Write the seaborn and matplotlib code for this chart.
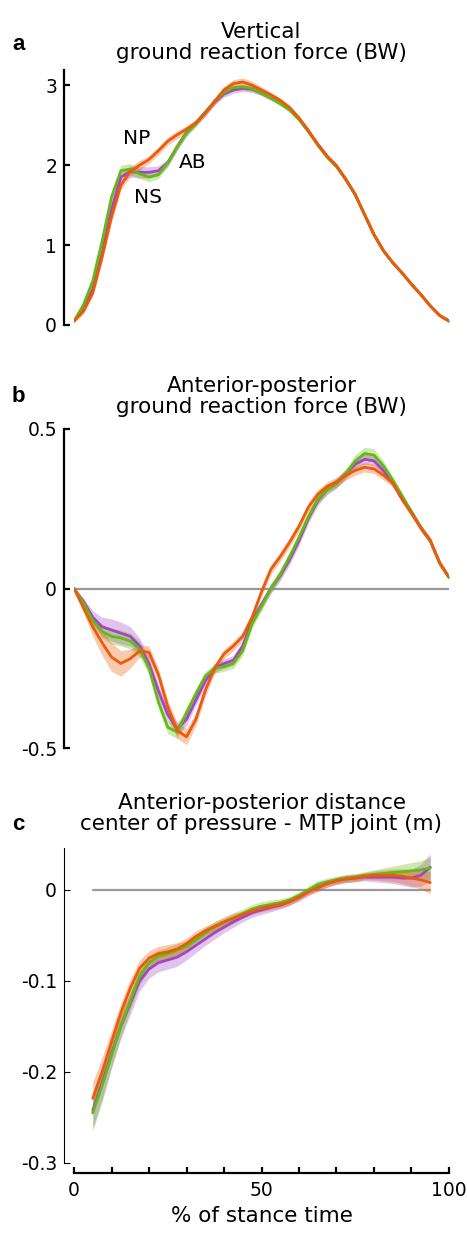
import numpy as np
import pandas as pd
import matplotlib
matplotlib.use("Agg")
import matplotlib.pyplot as plt
import seaborn as sns

# ---------------- data ----------------
groups = ["AB", "NS", "NP"]
colors = {"AB": "#a445c6", "NS": "#66b814", "NP": "#ec5a0a"}

pct_ab = [0, 2.5, 5, 7.5, 10, 12.5, 15, 17.5, 20, 22.5, 25, 27.5, 30, 32.5, 35, 37.5, 40,
          42.5, 45, 47.5, 50, 52.5, 55, 57.5, 60, 62.5, 65, 67.5, 70, 72.5, 75, 77.5, 80,
          82.5, 85, 87.5, 90, 92.5, 95, 97.5, 100]
pct_c = [5, 7.5, 10, 12.5, 15, 17.5, 20, 22.5, 25, 27.5, 30, 32.5, 35, 37.5, 40, 42.5, 45,
         47.5, 50, 52.5, 55, 57.5, 60, 62.5, 65, 67.5, 70, 72.5, 75, 77.5, 80, 82.5, 85,
         87.5, 90, 92.5, 95]

# panel a: vertical GRF (BW)
vgrf_AB = [0.05, 0.20, 0.45, 0.90, 1.45, 1.85, 1.92, 1.91, 1.91, 1.93, 2.03, 2.23, 2.41, 2.53,
           2.66, 2.79, 2.89, 2.94, 2.96, 2.95, 2.90, 2.84, 2.78, 2.70, 2.58, 2.43, 2.26, 2.11,
           1.99, 1.82, 1.63, 1.38, 1.13, 0.93, 0.78, 0.65, 0.51, 0.38, 0.24, 0.12, 0.05]
vgrf_NS = [0.05, 0.25, 0.55, 1.05, 1.60, 1.93, 1.95, 1.89, 1.85, 1.88, 2.03, 2.23, 2.40, 2.52,
           2.66, 2.80, 2.91, 2.97, 2.98, 2.96, 2.90, 2.84, 2.77, 2.69, 2.57, 2.42, 2.25, 2.10,
           1.98, 1.82, 1.63, 1.38, 1.13, 0.93, 0.78, 0.65, 0.51, 0.38, 0.24, 0.12, 0.05]
vgrf_NP = [0.05, 0.17, 0.40, 0.85, 1.35, 1.75, 1.92, 2.00, 2.07, 2.18, 2.30, 2.38, 2.45, 2.53,
           2.65, 2.80, 2.94, 3.02, 3.04, 3.00, 2.94, 2.88, 2.81, 2.72, 2.59, 2.43, 2.26, 2.11,
           1.99, 1.82, 1.63, 1.38, 1.13, 0.93, 0.78, 0.65, 0.51, 0.38, 0.24, 0.12, 0.05]
vgrf_sd_AB = [0.02, 0.03, 0.04, 0.05, 0.06, 0.07, 0.07, 0.07, 0.07, 0.06, 0.05, 0.05, 0.05, 0.04,
              0.04, 0.04, 0.04, 0.04, 0.04, 0.04, 0.03, 0.03, 0.03, 0.03, 0.03, 0.03, 0.03, 0.03,
              0.03, 0.03, 0.03, 0.03, 0.03, 0.03, 0.02, 0.02, 0.02, 0.02, 0.02, 0.02, 0.02]
vgrf_sd_NS = [0.02, 0.03, 0.04, 0.05, 0.06, 0.07, 0.07, 0.06, 0.06, 0.05, 0.05, 0.04, 0.04, 0.04,
              0.04, 0.04, 0.04, 0.04, 0.04, 0.04, 0.03, 0.03, 0.03, 0.03, 0.03, 0.03, 0.03, 0.03,
              0.03, 0.03, 0.03, 0.03, 0.03, 0.03, 0.02, 0.02, 0.02, 0.02, 0.02, 0.02, 0.02]
vgrf_sd_NP = [0.02, 0.03, 0.04, 0.05, 0.06, 0.06, 0.06, 0.06, 0.05, 0.05, 0.05, 0.05, 0.04, 0.04,
              0.04, 0.04, 0.05, 0.05, 0.05, 0.05, 0.04, 0.03, 0.03, 0.03, 0.03, 0.03, 0.03, 0.03,
              0.03, 0.03, 0.03, 0.03, 0.03, 0.03, 0.02, 0.02, 0.02, 0.02, 0.02, 0.02, 0.02]

# panel b: anterior-posterior GRF (BW)
apgrf_AB = [0.0, -0.04, -0.09, -0.12, -0.13, -0.14, -0.15, -0.18, -0.235, -0.32, -0.395, -0.44,
            -0.41, -0.35, -0.29, -0.25, -0.235, -0.225, -0.18, -0.10, -0.05, 0.0, 0.04, 0.09,
            0.15, 0.22, 0.275, 0.31, 0.33, 0.36, 0.39, 0.405, 0.40, 0.37, 0.33, 0.28, 0.24, 0.19,
            0.15, 0.08, 0.035]
apgrf_NS = [0.0, -0.045, -0.10, -0.135, -0.15, -0.155, -0.165, -0.19, -0.25, -0.355, -0.435,
            -0.45, -0.39, -0.33, -0.275, -0.25, -0.245, -0.235, -0.195, -0.11, -0.055, 0.0,
            0.045, 0.10, 0.16, 0.225, 0.28, 0.31, 0.33, 0.36, 0.40, 0.423, 0.418, 0.385, 0.34,
            0.29, 0.24, 0.19, 0.15, 0.08, 0.035]
apgrf_NP = [0.0, -0.06, -0.12, -0.17, -0.215, -0.235, -0.22, -0.196, -0.20, -0.27, -0.37,
            -0.445, -0.465, -0.41, -0.32, -0.25, -0.205, -0.18, -0.15, -0.09, -0.01, 0.06, 0.10,
            0.145, 0.195, 0.255, 0.295, 0.32, 0.334, 0.355, 0.37, 0.38, 0.375, 0.355, 0.33,
            0.28, 0.235, 0.19, 0.15, 0.08, 0.035]
apgrf_sd_AB = [0.0, 0.01, 0.02, 0.03, 0.035, 0.035, 0.03, 0.025, 0.02, 0.02, 0.02, 0.02, 0.02,
               0.015, 0.015, 0.015, 0.015, 0.015, 0.015, 0.015, 0.015, 0.015, 0.015, 0.015, 0.015,
               0.015, 0.015, 0.015, 0.015, 0.015, 0.015, 0.015, 0.015, 0.015, 0.01, 0.01, 0.01,
               0.01, 0.01, 0.01, 0.005]
apgrf_sd_NS = [0.0, 0.01, 0.015, 0.02, 0.025, 0.025, 0.025, 0.025, 0.02, 0.02, 0.02, 0.02, 0.02,
               0.015, 0.015, 0.015, 0.015, 0.015, 0.015, 0.015, 0.015, 0.015, 0.015, 0.015, 0.015,
               0.015, 0.015, 0.015, 0.015, 0.015, 0.02, 0.02, 0.02, 0.015, 0.01, 0.01, 0.01,
               0.01, 0.01, 0.01, 0.005]
apgrf_sd_NP = [0.0, 0.015, 0.03, 0.04, 0.045, 0.04, 0.03, 0.02, 0.02, 0.02, 0.02, 0.025, 0.025,
               0.02, 0.02, 0.015, 0.015, 0.015, 0.015, 0.015, 0.015, 0.015, 0.015, 0.015, 0.015,
               0.015, 0.015, 0.015, 0.015, 0.015, 0.015, 0.015, 0.015, 0.015, 0.01, 0.01, 0.01,
               0.01, 0.01, 0.01, 0.005]

# panel c: AP distance centre of pressure - MTP joint (m)
cop_AB = [-0.242, -0.212, -0.18, -0.15, -0.125, -0.10, -0.087, -0.08, -0.077, -0.074, -0.068,
          -0.061, -0.054, -0.047, -0.041, -0.035, -0.030, -0.025, -0.022, -0.019, -0.017, -0.013,
          -0.008, -0.002, 0.003, 0.007, 0.010, 0.012, 0.013, 0.014, 0.014, 0.014, 0.014, 0.013,
          0.013, 0.016, 0.025]
cop_NS = [-0.245, -0.215, -0.182, -0.15, -0.122, -0.095, -0.080, -0.073, -0.070, -0.066, -0.062,
          -0.055, -0.047, -0.041, -0.036, -0.031, -0.026, -0.021, -0.018, -0.016, -0.014, -0.011,
          -0.006, 0.0, 0.006, 0.009, 0.011, 0.013, 0.014, 0.016, 0.017, 0.018, 0.019, 0.020,
          0.021, 0.022, 0.024]
cop_NP = [-0.229, -0.20, -0.167, -0.135, -0.108, -0.086, -0.075, -0.070, -0.068, -0.065, -0.059,
          -0.051, -0.045, -0.040, -0.035, -0.031, -0.027, -0.023, -0.020, -0.018, -0.016, -0.013,
          -0.008, -0.002, 0.002, 0.007, 0.010, 0.012, 0.013, 0.015, 0.016, 0.016, 0.016, 0.015,
          0.013, 0.011, 0.008]
cop_sd_AB = [0.02, 0.018, 0.015, 0.013, 0.012, 0.011, 0.01, 0.01, 0.01, 0.01, 0.009, 0.008, 0.007,
             0.007, 0.006, 0.006, 0.005, 0.005, 0.005, 0.005, 0.004, 0.004, 0.004, 0.004, 0.004,
             0.004, 0.004, 0.004, 0.004, 0.004, 0.005, 0.006, 0.007, 0.008, 0.01, 0.012, 0.015]
cop_sd_NS = [0.02, 0.018, 0.014, 0.012, 0.01, 0.009, 0.008, 0.007, 0.007, 0.007, 0.006, 0.006,
             0.006, 0.006, 0.006, 0.006, 0.005, 0.005, 0.005, 0.005, 0.004, 0.004, 0.004, 0.004,
             0.004, 0.004, 0.004, 0.004, 0.004, 0.004, 0.005, 0.006, 0.007, 0.008, 0.009, 0.01,
             0.012]
cop_sd_NP = [0.018, 0.016, 0.013, 0.011, 0.01, 0.009, 0.008, 0.008, 0.008, 0.007, 0.006, 0.006,
             0.005, 0.005, 0.005, 0.005, 0.004, 0.004, 0.004, 0.004, 0.004, 0.004, 0.004, 0.004,
             0.004, 0.004, 0.004, 0.004, 0.004, 0.004, 0.005, 0.006, 0.007, 0.008, 0.009, 0.01,
             0.012]

panel_titles = ["Vertical\nground reaction force (BW)",
                "Anterior-posterior\nground reaction force (BW)",
                "Anterior-posterior distance\ncenter of pressure - MTP joint (m)"]
panel_letters = ["a", "b", "c"]
xlabel = "% of stance time"
group_labels = {"NP": (16.7, 2.33), "NS": (19.8, 1.60), "AB": (31.6, 2.03)}

# ---------------- figure ----------------
sns.set_theme(style="white")
plt.rcParams["font.family"] = ["DejaVu Sans"]
plt.rcParams["text.color"] = "black"
plt.rcParams["axes.labelcolor"] = "black"
plt.rcParams["xtick.color"] = "black"
plt.rcParams["ytick.color"] = "black"

W, H = 467, 1237
fig = plt.figure(figsize=(W / 100, H / 100), dpi=100)


def rect(top, bottom, left=74, right=449):
    return [left / W, 1 - bottom / H, (right - left) / W, (bottom - top) / H]


ax_a = fig.add_axes(rect(70, 325))
ax_b = fig.add_axes(rect(429, 748))
ax_c = fig.add_axes(rect(848, 1163))


def draw(ax, x, series, sds):
    rows = []
    for g in groups:
        for xi, yi in zip(x, series[g]):
            rows.append({"pct": xi, "val": yi, "grp": g})
    df = pd.DataFrame(rows)
    for g in groups:
        m = np.array(series[g])
        s = np.array(sds[g])
        ax.fill_between(x, m - s, m + s, color=colors[g], alpha=0.32, lw=0)
    sns.lineplot(data=df, x="pct", y="val", hue="grp", hue_order=groups,
                 palette=colors, ax=ax, legend=False, lw=2.0, errorbar=None)


# zero lines
ax_b.plot([pct_ab[0], pct_ab[-1]], [0, 0], color="#999999", lw=1.6, zorder=0)
ax_c.plot([pct_c[0], pct_c[-1]], [0, 0], color="#999999", lw=1.6, zorder=0)

draw(ax_a, pct_ab, {"AB": vgrf_AB, "NS": vgrf_NS, "NP": vgrf_NP},
     {"AB": vgrf_sd_AB, "NS": vgrf_sd_NS, "NP": vgrf_sd_NP})
draw(ax_b, pct_ab, {"AB": apgrf_AB, "NS": apgrf_NS, "NP": apgrf_NP},
     {"AB": apgrf_sd_AB, "NS": apgrf_sd_NS, "NP": apgrf_sd_NP})
draw(ax_c, pct_c, {"AB": cop_AB, "NS": cop_NS, "NP": cop_NP},
     {"AB": cop_sd_AB, "NS": cop_sd_NS, "NP": cop_sd_NP})

for lab, (xx, yy) in group_labels.items():
    ax_a.text(xx, yy, lab, ha="center", va="center", fontsize=14.5, color="black")

ax_a.set_ylim(0, 3.19)
ax_a.set_yticks([0, 1, 2, 3])
ax_a.set_yticklabels(["0", "1", "2", "3"])
ax_b.set_ylim(-0.5, 0.5)
ax_b.set_yticks([-0.5, 0, 0.5])
ax_b.set_yticklabels(["-0.5", "0", "0.5"])
ax_c.set_ylim(-0.3, 0.046)
ax_c.set_yticks([-0.3, -0.2, -0.1, 0])
ax_c.set_yticklabels(["-0.3", "-0.2", "-0.1", "0"])

for ax in (ax_a, ax_b, ax_c):
    ax.set_xlim(0, 100)
    ax.set_xlabel("")
    ax.set_ylabel("")
    ax.patch.set_alpha(0)
    for s in ("top", "right"):
        ax.spines[s].set_visible(False)
    ax.spines["left"].set_position(("outward", 7.2))
    ax.spines["left"].set_color("black")
    ax.spines["left"].set_linewidth(1.6)
    ax.tick_params(axis="y", direction="in", length=4, width=1.6, color="black",
                   labelcolor="black", labelsize=13.5, pad=5, left=True)

ax_c.spines["left"].set_linewidth(0.8)
ax_c.tick_params(axis="y", width=0.8)

for ax in (ax_a, ax_b):
    ax.spines["bottom"].set_visible(False)
    ax.set_xticks([])

ax_c.spines["bottom"].set_position(("outward", 7.2))
ax_c.spines["bottom"].set_color("black")
ax_c.spines["bottom"].set_linewidth(1.6)
ax_c.set_xticks([0, 50, 100])
ax_c.set_xticklabels(["0", "50", "100"])
ax_c.set_xticks(np.arange(0, 101, 10), minor=True)
ax_c.tick_params(axis="x", which="both", direction="in", length=4, width=1.6,
                 color="black", labelcolor="black", labelsize=13.5, bottom=True, pad=6)
ax_c.set_xlabel(xlabel, fontsize=15.5, labelpad=4, color="black")

# titles and panel letters (pixel positions)
title_tops = [22, 376, 793]
letter_base = [50, 402, 830]
for t, top, letter, lb in zip(panel_titles, title_tops, panel_letters, letter_base):
    fig.text(261.5 / W, 1 - top / H, t, ha="center", va="top", fontsize=15.5,
             linespacing=1.05, color="black")
    fig.text(12 / W, 1 - lb / H, letter, ha="left", va="baseline", fontsize=16,
             fontweight="bold", color="black", family=["Liberation Sans", "DejaVu Sans"])

fig.savefig("out.png", dpi=100)
